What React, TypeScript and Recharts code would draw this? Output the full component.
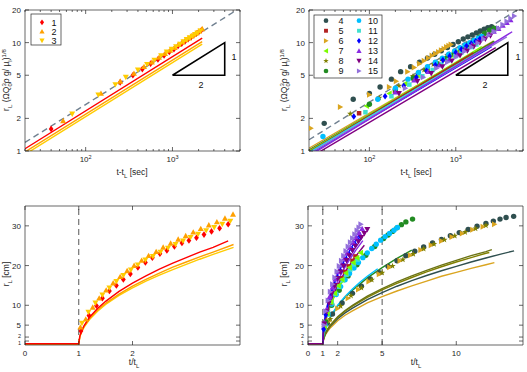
import React from 'react';
import { ComposedChart, Scatter, Line, XAxis, YAxis, ReferenceLine } from 'recharts';

type Pt = [number, number];

const AX = '#262626';
const FONT = 'Liberation Sans, Arial, sans-serif';

// series colours and marker kinds (legend 1..15)
const COLORS: Record<number, string> = {
  1: '#ff0000', 2: '#ffa000', 3: '#ffcc00', 4: '#2f4f4f', 5: '#b22222',
  6: '#daa520', 7: '#7cfc00', 8: '#808000', 9: '#228b22', 10: '#00bfff',
  11: '#40e0d0', 12: '#0000ff', 13: '#8a2be2', 14: '#800080', 15: '#9370db',
};
const KINDS: Record<number, string> = {
  1: 'diamond', 2: 'up', 3: 'down', 4: 'circle', 5: 'square', 6: 'right', 7: 'left',
  8: 'star', 9: 'circle', 10: 'circle', 11: 'square', 12: 'diamond', 13: 'up', 14: 'down', 15: 'right',
};

// ---------- top panels: t - t_L [sec] vs scaled r_L ----------
const logXTicks = [20, 30, 40, 50, 60, 70, 80, 90, 100, 200, 300, 400, 500, 600, 700, 800, 900, 1000, 2000, 3000, 4000, 5000, 6000];
const logYTicks = [1, 2, 5, 10, 20];

const top1: Pt[] = [[40, 1.6], [250, 4.3], [350, 5.0], [450, 5.7], [560, 6.4], [680, 7.0], [800, 7.6], [920, 8.2], [1040, 8.7], [1160, 9.3], [1280, 9.8], [1400, 10.3], [1520, 10.8], [1640, 11.2], [1760, 11.7], [1880, 12.1], [2000, 12.5], [2150, 13.0]];
const top2: Pt[] = [[55, 1.9], [150, 3.4], [250, 4.4], [360, 5.2], [470, 6.0], [580, 6.6], [700, 7.3], [820, 7.9], [940, 8.5], [1060, 9.0], [1180, 9.6], [1300, 10.1], [1420, 10.6], [1540, 11.0], [1660, 11.5], [1780, 11.9], [1900, 12.3], [2020, 12.8], [2200, 13.4]];
const top3: Pt[] = [[70, 2.2], [140, 3.3], [220, 4.1], [290, 4.8], [400, 5.6], [510, 6.3], [620, 6.9], [740, 7.6], [860, 8.2], [980, 8.7], [1100, 9.2], [1220, 9.7], [1340, 10.2], [1460, 10.7], [1580, 11.1], [1700, 11.5], [1820, 11.9], [1940, 12.3], [2100, 12.8]];
const topFit1: Pt[] = [[20, 1.05], [2200, 11.0]];
const topFit2: Pt[] = [[20, 0.98], [2200, 10.2]];
const topFit3: Pt[] = [[20, 0.93], [2200, 9.7]];
const topRefA: Pt[] = [[20, 1.2], [5300, 19.6]];

const top4: Pt[] = [[30, 1.8], [65, 3.0], [100, 3.4], [133, 3.9], [180, 4.6], [230, 5.4], [300, 6.0], [380, 6.6], [470, 7.2], [570, 7.8], [680, 8.4], [800, 9.0], [930, 9.6], [1070, 10.2], [1220, 10.8], [1380, 11.3], [1550, 11.8], [1730, 12.3], [1920, 12.8], [2130, 13.3], [2350, 13.7], [2600, 14.0]];
const top5: Pt[] = [[76, 2.23], [198, 3.55], [330, 4.6], [470, 5.5], [620, 6.3], [780, 7.0], [950, 7.7], [1130, 8.3], [1320, 8.9], [1520, 9.4]];
const top6: Pt[] = [[21, 1.62], [46, 2.55], [100, 3.3], [170, 3.9], [204, 4.4], [277, 5.4], [330, 5.9], [380, 6.4], [430, 6.8], [480, 7.2], [530, 7.6], [580, 7.9], [630, 8.2], [680, 8.5], [730, 8.8], [780, 9.1], [830, 9.35], [880, 9.6]];
const top7: Pt[] = [[93, 2.6], [170, 3.4], [260, 4.2], [360, 5.0], [470, 5.7], [590, 6.4], [720, 7.0], [860, 7.6], [1010, 8.2], [1170, 8.8], [1340, 9.3], [1520, 9.8]];
const top8: Pt[] = [[60, 2.2], [130, 3.1], [220, 4.0], [320, 4.9], [430, 5.6], [550, 6.3], [680, 7.0], [820, 7.6], [970, 8.2], [1130, 8.8], [1300, 9.3], [1480, 9.9], [1670, 10.4], [1870, 10.9], [2080, 11.4]];
const top9: Pt[] = [[100, 2.7], [200, 3.7], [320, 4.7], [460, 5.6], [610, 6.4], [780, 7.2], [960, 8.0], [1160, 8.8], [1380, 9.6], [1620, 10.5], [1880, 11.3], [2160, 12.2], [2460, 13.0], [2780, 13.6]];
const top10: Pt[] = [[29, 1.36], [125, 3.0], [200, 3.8], [280, 4.6], [370, 5.3], [470, 6.0], [580, 6.6], [700, 7.2], [830, 7.8], [970, 8.4], [1120, 9.0], [1280, 9.5], [1450, 10.0], [1630, 10.5], [1820, 11.0], [2000, 11.4]];
const top11: Pt[] = [[90, 2.28], [180, 3.2], [290, 4.1], [410, 4.9], [540, 5.6], [680, 6.3], [830, 6.9], [990, 7.5], [1160, 8.1], [1340, 8.6], [1530, 9.1], [1730, 9.6]];
const top12: Pt[] = [[66, 2.08], [152, 3.2], [250, 4.0], [350, 4.8], [460, 5.5], [580, 6.2], [710, 6.9], [850, 7.5], [1000, 8.1], [1160, 8.7], [1330, 9.3], [1510, 9.8], [1700, 10.3], [1900, 10.8]];
const top13: Pt[] = [[200, 3.5], [330, 4.5], [480, 5.4], [650, 6.2], [840, 7.0], [1050, 7.8], [1280, 8.7], [1530, 9.5], [1800, 10.3], [2100, 11.1], [2420, 11.9], [2760, 12.7], [3120, 13.5], [3500, 14.4], [3900, 15.3], [4300, 16.2]];
const top14: Pt[] = [[220, 3.4], [360, 4.4], [520, 5.2], [700, 6.0], [900, 6.8], [1120, 7.6], [1360, 8.4], [1620, 9.2], [1900, 10.0], [2200, 10.8], [2520, 11.6]];
const top15: Pt[] = [[260, 3.8], [420, 4.8], [600, 5.8], [800, 6.6], [1020, 7.4], [1260, 8.3], [1520, 9.1], [1800, 9.9], [2100, 10.8], [2420, 11.7], [2760, 12.6], [3120, 13.6], [3500, 14.6], [3900, 15.7], [4320, 16.7], [4760, 17.6]];
const topRefB: Pt[] = [[20, 1.27], [5400, 20.5]];
const topFits2: Record<number, Pt[]> = {
  6: [[20, 1.06], [2750, 10.4]],
  4: [[20, 1.02], [2750, 10.2]],
  9: [[20, 1.0], [2800, 10.3]],
  8: [[20, 1.01], [2700, 10.0]],
  7: [[20, 1.0], [2000, 9.2]],
  5: [[20, 0.98], [1600, 8.1]],
  10: [[20, 0.97], [2400, 9.3]],
  11: [[20, 0.96], [2300, 9.1]],
  12: [[20, 0.93], [2600, 9.2]],
  15: [[20, 0.94], [3900, 11.3]],
  13: [[20, 0.9], [4500, 12.6]],
  14: [[20, 0.86], [2900, 9.0]],
};
const slopeTri: Pt[] = [[1000, 5], [4000, 10], [4000, 5], [1000, 5]];

// ---------- bottom panels: t/t_L vs r_L [cm] ----------
const linYTicks = [1, 2, 5, 10, 20, 30];

const bot1: Pt[] = [[1.04, 3.5], [1.19, 7.4], [1.33, 9.9], [1.44, 11.8], [1.57, 13.6], [1.70, 15.0], [1.83, 16.5], [1.96, 17.9], [2.10, 19.5], [2.24, 20.8], [2.37, 22.0], [2.51, 23.0], [2.64, 23.8], [2.78, 24.8], [2.92, 25.7], [3.05, 26.3], [3.19, 27.0], [3.33, 27.8], [3.47, 28.6], [3.62, 29.4], [3.78, 30.4]];
const bot2: Pt[] = [[1.03, 4.5], [1.13, 6.5], [1.26, 9.5], [1.38, 11.8], [1.51, 13.8], [1.64, 15.6], [1.77, 17.2], [1.9, 18.7], [2.03, 20.0], [2.17, 21.3], [2.3, 22.5], [2.44, 23.5], [2.57, 24.6], [2.71, 25.6], [2.85, 26.6], [2.99, 27.5], [3.13, 28.4], [3.27, 29.3], [3.42, 30.2], [3.57, 31.0], [3.72, 31.9], [3.87, 32.9]];
const bot3: Pt[] = [[1.06, 5.5], [1.18, 8.3], [1.31, 10.6], [1.44, 12.6], [1.57, 14.4], [1.7, 16.0], [1.83, 17.5], [1.97, 18.9], [2.1, 20.2], [2.24, 21.4], [2.38, 22.3], [2.52, 23.4], [2.66, 24.4], [2.8, 25.3], [2.94, 26.2], [3.08, 27.1], [3.22, 27.9], [3.37, 28.8], [3.52, 29.6], [3.67, 30.4], [3.82, 31.2]];
const botFit1: Pt[] = [[0, 0.3], [1, 0.3], [1.02, 2.2], [1.05, 3.5], [1.1, 4.9], [1.2, 7.0], [1.35, 9.2], [1.5, 11.0], [1.75, 13.5], [2, 15.6], [2.25, 17.4], [2.5, 19.1], [2.75, 20.6], [3, 22.0], [3.25, 23.4], [3.5, 24.6], [3.78, 26.2]];
const botFit2: Pt[] = [[0, 0.3], [1, 0.3], [1.02, 2.1], [1.05, 3.3], [1.1, 4.7], [1.2, 6.6], [1.35, 8.8], [1.5, 10.5], [1.75, 12.8], [2, 14.8], [2.25, 16.5], [2.5, 18.1], [2.75, 19.6], [3, 20.9], [3.25, 22.2], [3.5, 23.4], [3.88, 25.3]];
const botFit3: Pt[] = [[0, 0.2], [1, 0.2], [1.02, 2.0], [1.05, 3.2], [1.1, 4.5], [1.2, 6.4], [1.35, 8.5], [1.5, 10.2], [1.75, 12.5], [2, 14.4], [2.25, 16.1], [2.5, 17.6], [2.75, 19.0], [3, 20.3], [3.25, 21.6], [3.5, 22.8], [3.88, 24.6]];

const bot4: Pt[] = [[1.3, 5.5], [1.65, 7.8], [2.3, 10.6], [3.0, 13.0], [3.6, 14.8], [4.2, 16.6], [4.8, 18.2], [5.4, 19.8], [6.0, 21.2], [6.6, 22.5], [7.2, 23.6], [7.8, 24.7], [8.4, 25.7], [9.0, 26.6], [9.6, 27.5], [10.2, 28.3], [10.8, 29.1], [11.4, 29.9], [12.0, 30.6], [12.5, 31.2], [12.95, 31.7], [13.36, 32.1], [13.87, 32.4]];
const bot5: Pt[] = [[1.1, 4.7], [1.3, 8.2], [1.5, 10.6], [1.75, 13.0], [2.0, 15.0], [2.25, 16.8], [2.5, 18.4], [2.75, 19.8], [3.0, 21.2], [3.2, 22.3]];
const bot6: Pt[] = [[1.4, 6.0], [2.0, 9.2], [2.7, 11.8], [3.4, 14.0], [4.1, 16.0], [4.8, 17.8], [5.5, 19.6], [6.2, 21.2], [6.9, 22.6], [7.6, 23.9], [8.3, 25.1], [9.0, 26.2], [9.7, 27.2], [10.4, 28.1], [11.1, 29.0], [11.8, 29.8], [12.57, 30.4]];
const bot7: Pt[] = [[1.1, 4.6], [1.3, 7.9], [1.55, 10.8], [1.8, 13.0], [2.05, 14.9], [2.3, 16.5], [2.55, 18.1], [2.8, 19.5], [3.05, 20.8], [3.3, 22.0], [3.55, 23.2]];
const bot8: Pt[] = [[1.5, 6.5], [2.2, 9.8], [2.9, 12.4], [3.6, 14.4], [4.3, 16.4], [5.0, 18.2], [5.7, 19.9], [6.4, 21.5], [7.1, 22.9], [7.8, 24.2], [8.5, 25.4], [9.2, 26.5], [9.9, 27.5], [10.6, 28.4], [11.3, 29.3], [12.0, 30.1]];
const bot9: Pt[] = [[1.2, 5.8], [1.6, 10.0], [2.1, 13.8], [2.7, 17.4], [3.3, 20.2], [3.9, 22.6], [4.5, 24.8], [5.1, 26.8], [5.4, 27.7], [5.7, 28.6], [6.0, 29.5], [6.3, 30.3], [6.6, 31.0], [7.05, 31.7]];
const bot10: Pt[] = [[1.15, 5.0], [1.35, 7.8], [1.6, 10.3], [1.9, 12.7], [2.2, 14.7], [2.5, 16.4], [2.8, 18.0], [3.1, 19.4], [3.4, 20.8], [3.7, 22.0], [4.0, 23.2], [4.3, 24.3], [4.6, 25.4], [4.9, 26.4], [5.2, 27.3], [5.5, 28.1], [5.8, 28.9], [6.03, 29.6]];
const bot11: Pt[] = [[1.12, 4.9], [1.35, 8.3], [1.6, 10.8], [1.85, 12.9], [2.1, 14.7], [2.35, 16.3], [2.6, 17.7], [2.85, 19.0], [3.1, 20.3], [3.35, 21.5]];
const bot12: Pt[] = [[1.05, 4.0], [1.2, 7.6], [1.4, 10.8], [1.6, 13.2], [1.8, 15.2], [2.0, 17.0], [2.2, 18.6], [2.4, 20.1], [2.6, 21.5], [2.8, 22.8], [3.0, 24.0], [3.2, 25.2], [3.4, 26.3], [3.56, 27.2]];
const bot13: Pt[] = [[1.1, 5.7], [1.25, 9.0], [1.45, 12.1], [1.65, 14.5], [1.85, 16.6], [2.05, 18.4], [2.25, 20.1], [2.45, 21.7], [2.65, 23.1], [2.85, 24.5], [3.05, 25.8], [3.25, 27.0], [3.45, 28.2], [3.65, 29.3]];
const bot14: Pt[] = [[1.1, 5.3], [1.25, 8.4], [1.4, 10.6], [1.6, 13.0], [1.8, 15.0], [2.0, 16.8], [2.2, 18.4], [2.4, 19.9], [2.6, 21.3], [2.8, 22.5], [3.0, 23.8], [3.2, 24.9], [3.4, 26.0], [3.6, 27.1], [3.8, 28.1], [4.0, 29.1]];
const bot15: Pt[] = [[1.08, 5.0], [1.2, 8.5], [1.35, 11.2], [1.5, 13.4], [1.65, 15.3], [1.8, 17.0], [1.95, 18.5], [2.1, 19.9], [2.25, 21.2], [2.4, 22.5], [2.55, 23.7], [2.7, 24.8], [2.85, 25.9], [3.0, 26.9], [3.15, 27.9], [3.3, 28.8], [3.43, 29.6], [3.56, 30.4]];

const botFits4: { color: string; pts: Pt[] }[] = [
  { color: COLORS[6], pts: [[0, 0.3], [1, 0.3], [1.05, 1.4], [1.15, 2.4], [1.3, 3.3], [1.5, 4.3], [2, 6.1], [2.5, 7.5], [3, 8.6], [4, 10.6], [5, 12.2], [6, 13.6], [7, 14.9], [8, 16.1], [9, 17.3], [10, 18.3], [11, 19.3], [12, 20.2], [12.57, 20.75]] },
  { color: COLORS[4], pts: [[0, 0.3], [1, 0.3], [1.05, 1.5], [1.15, 2.6], [1.3, 3.6], [1.5, 4.7], [2, 6.6], [2.5, 8.1], [3, 9.3], [4, 11.4], [5, 13.2], [6, 14.8], [7, 16.2], [8, 17.5], [9, 18.7], [10, 19.8], [11, 20.9], [12, 21.9], [13, 22.9], [13.9, 23.7]] },
  { color: COLORS[8], pts: [[0, 0.3], [1, 0.3], [1.05, 1.6], [1.15, 2.7], [1.3, 3.8], [1.5, 4.9], [2, 6.95], [2.5, 8.5], [3, 9.8], [4, 12.0], [5, 13.9], [6, 15.5], [7, 17.0], [8, 18.4], [9, 19.7], [10, 20.9], [11, 22.0], [12, 23.1], [12.23, 23.3]] },
  { color: '#6b7314', pts: [[1, 0.3], [1.05, 1.6], [1.15, 2.8], [1.3, 3.9], [1.5, 5.0], [2, 7.1], [2.5, 8.7], [3, 10.0], [4, 12.3], [5, 14.2], [6, 15.9], [7, 17.4], [8, 18.8], [9, 20.1], [10, 21.3], [11, 22.5], [12, 23.5], [12.4, 24.0]] },
  { color: COLORS[9], pts: [[1, 0.3], [1.05, 2.2], [1.15, 3.8], [1.3, 5.3], [1.5, 6.9], [2, 9.8], [2.5, 12.0], [3, 13.8], [4, 16.9], [5, 19.5], [6, 21.8], [7, 23.9]] },
  { color: COLORS[10], pts: [[1, 0.3], [1.05, 2.2], [1.15, 3.9], [1.3, 5.5], [1.5, 7.1], [2, 10.0], [2.5, 12.2], [3, 14.1], [3.5, 15.8], [4, 17.3], [4.7, 19.2]] },
  { color: COLORS[5], pts: [[1, 0.3], [1.03, 2.4], [1.08, 4.0], [1.15, 5.4], [1.3, 7.7], [1.5, 9.9], [1.75, 12.1], [2, 14.0], [2.25, 15.7], [2.5, 17.1], [2.75, 18.5], [3, 19.8], [3.2, 20.8]] },
  { color: COLORS[11], pts: [[1, 0.3], [1.03, 2.5], [1.08, 4.1], [1.15, 5.6], [1.3, 7.9], [1.5, 10.3], [1.75, 12.6], [2, 14.5], [2.25, 16.2], [2.5, 17.8], [2.75, 19.2], [3, 20.5], [3.4, 22.5]] },
  { color: COLORS[7], pts: [[1, 0.3], [1.03, 2.4], [1.08, 3.9], [1.15, 5.4], [1.3, 7.6], [1.5, 9.8], [1.75, 12.0], [2, 13.9], [2.25, 15.5], [2.5, 17.0], [2.75, 18.4], [3, 19.7], [3.25, 20.9], [3.56, 22.2]] },
  { color: COLORS[13], pts: [[1, 0.3], [1.03, 2.8], [1.08, 4.5], [1.15, 6.2], [1.3, 8.8], [1.5, 11.3], [1.75, 13.9], [2, 16.0], [2.25, 17.9], [2.5, 19.6], [2.75, 21.2], [3, 22.6], [3.25, 24.0], [3.7, 26.3]] },
  { color: COLORS[15], pts: [[1, 0.3], [1.03, 3.2], [1.08, 5.2], [1.15, 7.2], [1.3, 10.1], [1.5, 13.1], [1.75, 16.0], [2, 18.5], [2.25, 20.7], [2.5, 22.7], [2.75, 24.5], [3, 26.2], [3.25, 27.8], [3.45, 29.0]] },
  { color: COLORS[12], pts: [[1, 0.3], [1.03, 3.1], [1.08, 5.0], [1.15, 6.9], [1.3, 9.7], [1.5, 12.5], [1.75, 15.3], [2, 17.7], [2.25, 19.8], [2.5, 21.7], [2.75, 23.4], [3, 25.0], [3.25, 26.6], [3.56, 28.3]] },
  { color: COLORS[14], pts: [[0, 0.3], [1, 0.3], [1.03, 2.6], [1.08, 4.2], [1.15, 5.8], [1.3, 8.2], [1.5, 10.6], [1.75, 13.0], [2, 15.0], [2.25, 16.8], [2.5, 18.4], [2.75, 19.8], [3, 21.2], [3.25, 22.5], [3.56, 24.0], [3.8, 25.1]] },
];

const toXY = (pts: Pt[]) => pts.map(([x, y]) => ({ x, y }));

function Marker({ kind, cx, cy, color, r = 3 }: { kind: string; cx: number; cy: number; color: string; r?: number }) {
  const p = (arr: number[][]) => arr.map(([a, b]) => `${cx + a},${cy + b}`).join(' ');
  switch (kind) {
    case 'circle':
      return <circle cx={cx} cy={cy} r={r * 0.9} fill={color} />;
    case 'square':
      return <rect x={cx - r * 0.75} y={cy - r * 0.75} width={r * 1.5} height={r * 1.5} fill={color} />;
    case 'diamond':
      return <polygon points={p([[0, -r * 1.1], [r * 0.8, 0], [0, r * 1.1], [-r * 0.8, 0]])} fill={color} />;
    case 'up':
      return <polygon points={p([[0, -r], [r, r * 0.8], [-r, r * 0.8]])} fill={color} />;
    case 'down':
      return <polygon points={p([[0, r], [r, -r * 0.8], [-r, -r * 0.8]])} fill={color} />;
    case 'right':
      return <polygon points={p([[r, 0], [-r * 0.8, -r], [-r * 0.8, r]])} fill={color} />;
    case 'left':
      return <polygon points={p([[-r, 0], [r * 0.8, -r], [r * 0.8, r]])} fill={color} />;
    default: {
      const pts: number[][] = [];
      for (let i = 0; i < 10; i++) {
        const a = -Math.PI / 2 + (i * Math.PI) / 5;
        const rr = i % 2 === 0 ? r * 1.1 : r * 0.45;
        pts.push([rr * Math.cos(a), rr * Math.sin(a)]);
      }
      return <polygon points={p(pts)} fill={color} />;
    }
  }
}

const isDecade = (v: number) => Math.abs(Math.log10(v) - Math.round(Math.log10(v))) < 1e-6;

function tickLabel(v: number, log: boolean, x: number, y: number, anchor: string, size = 8) {
  if (log) {
    if (!isDecade(v)) return null;
    return (
      <text x={x} y={y} textAnchor={anchor} fontSize={size} fill={AX} fontFamily={FONT}>
        10<tspan dy={-3.5} fontSize={5.5}>{Math.round(Math.log10(v))}</tspan>
      </text>
    );
  }
  return (
    <text x={x} y={y} textAnchor={anchor} fontSize={size} fill={AX} fontFamily={FONT}>{v}</text>
  );
}

const mkTick = (side: 'b' | 't' | 'l' | 'r', log: boolean) => (props: any) => {
  const { x, y, payload } = props;
  const v = payload.value as number;
  const major = !log || isDecade(v) || side === 'l' || side === 'r';
  const len = major ? 4 : 2;
  let line;
  if (side === 'b') line = <line x1={x} x2={x} y1={y} y2={y - len} stroke={AX} strokeWidth={0.7} />;
  else if (side === 't') line = <line x1={x} x2={x} y1={y} y2={y + len} stroke={AX} strokeWidth={0.7} />;
  else if (side === 'l') line = <line x1={x} x2={x + len} y1={y} y2={y} stroke={AX} strokeWidth={0.7} />;
  else line = <line x1={x} x2={x - len} y1={y} y2={y} stroke={AX} strokeWidth={0.7} />;
  let label = null;
  if (side === 'b') label = tickLabel(v, log, x, y + 11, 'middle');
  if (side === 'l') {
    // the linear r_L axis has 1 and 2 squeezed together near the bottom
    const tight = !log && (v === 1 || v === 2);
    const dy = tight ? (v === 1 ? 4.2 : 1.2) : 3;
    label = tickLabel(v, false, x - 4, y + dy, 'end', tight ? 5.5 : 8);
  }
  return <g>{line}{label}</g>;
};

type DotSeries = { id: number; pts: Pt[] };
type LineSeries = { color: string; pts: Pt[]; w?: number; dash?: string };

function Panel(props: {
  left: number; top: number; width: number; height: number;
  plot: [number, number, number, number];
  log: boolean;
  xDomain: [number, number]; yDomain: [number, number];
  xTicks: number[]; yTicks: number[];
  dots: DotSeries[]; lines: LineSeries[]; overLines?: LineSeries[]; vlines?: number[];
}) {
  const { left, top, width, height, plot, log, xDomain, yDomain, xTicks, yTicks, dots, lines, overLines = [], vlines = [] } = props;
  const [pl, pt, pr, pb] = plot;
  const margin = { left: 0, top: pt - 1, right: width - pr - 1, bottom: 0 };
  const sc = log ? 'log' : 'linear';
  const axisCommon = { type: 'number' as const, allowDataOverflow: true, interval: 0 as const, tickSize: 0, tickMargin: 0, tickLine: false, axisLine: { stroke: AX, strokeWidth: 0.7 } };
  const renderLine = (ln: LineSeries, i: number, key: string) => (
    <Line key={key + i} xAxisId="b" yAxisId="l" data={toXY(ln.pts)} dataKey="y" type="linear" stroke={ln.color}
      strokeWidth={ln.w ?? 1.4} strokeDasharray={ln.dash} dot={false} activeDot={false} isAnimationActive={false} />
  );
  return (
    <div style={{ position: 'absolute', left, top }}>
      <ComposedChart width={width} height={height} margin={margin}>
        <XAxis xAxisId="b" orientation="bottom" dataKey="x" scale={sc} domain={xDomain} ticks={xTicks} height={height - pb} tick={mkTick('b', log)} {...axisCommon} />
        <XAxis xAxisId="t" orientation="top" dataKey="x" scale={sc} domain={xDomain} ticks={xTicks} height={1} tick={mkTick('t', log)} {...axisCommon} />
        <YAxis yAxisId="l" orientation="left" dataKey="y" scale={log ? 'log' : 'linear'} domain={yDomain} ticks={yTicks} width={pl} tick={mkTick('l', log)} {...axisCommon} />
        <YAxis yAxisId="r" orientation="right" dataKey="y" scale={log ? 'log' : 'linear'} domain={yDomain} ticks={yTicks} width={1} tick={mkTick('r', log)} {...axisCommon} />
        {vlines.map((v) => (
          <ReferenceLine key={'v' + v} xAxisId="b" yAxisId="l" x={v} stroke="#444" strokeWidth={0.9} strokeDasharray="6 4" />
        ))}
        {lines.map((ln, i) => renderLine(ln, i, 'ln'))}
        {dots.map((d) => (
          <Scatter key={'s' + d.id} xAxisId="b" yAxisId="l" data={toXY(d.pts)} isAnimationActive={false}
            shape={(p: any) => <Marker kind={KINDS[d.id]} cx={p.cx} cy={p.cy} color={COLORS[d.id]} />} />
        ))}
        {overLines.map((ln, i) => renderLine(ln, i, 'ov'))}
      </ComposedChart>
    </div>
  );
}

function Labels() {
  const t = { fontSize: 8.5, fill: AX, fontFamily: FONT };
  const sub = (s: string) => <tspan dy={2.5} fontSize={6}>{s}</tspan>;
  const yScaled = (x: number, y: number) => (
    <text transform={`translate(${x},${y}) rotate(-90)`} textAnchor="middle" {...t}>
      r{sub('L')}<tspan dy={-2.5}> (ΩQ</tspan><tspan dy={2.5} fontSize={6}>0</tspan><tspan dx={-3.3} dy={-6} fontSize={6}>3</tspan>
      <tspan dy={3.5}>ρ g/ μ</tspan><tspan dy={2.5} fontSize={6}>l</tspan><tspan dy={-2.5}>)</tspan>
      <tspan dy={-3.5} fontSize={6}>1/8</tspan>
    </text>
  );
  const legend1 = [1, 2, 3];
  const legend2 = [4, 5, 6, 7, 8, 9, 10, 11, 12, 13, 14, 15];
  return (
    <svg width={527} height={372} style={{ position: 'absolute', left: 0, top: 0, pointerEvents: 'none' }}>
      {yScaled(9, 80)}
      {yScaled(287, 80)}
      <text x={132} y={175} textAnchor="middle" {...t}>t-t{sub('L')}<tspan dy={-2.5}> [sec]</tspan></text>
      <text x={416} y={175} textAnchor="middle" {...t}>t-t{sub('L')}<tspan dy={-2.5}> [sec]</tspan></text>
      <text transform="translate(9,274) rotate(-90)" textAnchor="middle" {...t}>r{sub('L')}<tspan dy={-2.5}> [cm]</tspan></text>
      <text transform="translate(287,274) rotate(-90)" textAnchor="middle" {...t}>r{sub('L')}<tspan dy={-2.5}> [cm]</tspan></text>
      <text x={134} y={365} textAnchor="middle" {...t}>t/t{sub('L')}</text>
      <text x={416} y={365} textAnchor="middle" {...t}>t/t{sub('L')}</text>

      <text x={234} y={60} textAnchor="middle" fontSize={9} fill="#111" fontFamily={FONT}>1</text>
      <text x={201} y={88} textAnchor="middle" fontSize={9} fill="#111" fontFamily={FONT}>2</text>
      <text x={518} y={60} textAnchor="middle" fontSize={9} fill="#111" fontFamily={FONT}>1</text>
      <text x={485} y={88} textAnchor="middle" fontSize={9} fill="#111" fontFamily={FONT}>2</text>

      <rect x={31} y={14} width={30} height={31} fill="#fff" stroke={AX} strokeWidth={0.7} />
      {legend1.map((id, i) => (
        <g key={id}>
          <Marker kind={KINDS[id]} cx={42} cy={22.3 + i * 9.2} color={COLORS[id]} r={2.6} />
          <text x={54} y={25.5 + i * 9.2} textAnchor="middle" fontSize={9} fill="#111" fontFamily={FONT}>{id}</text>
        </g>
      ))}
      <rect x={314} y={15} width={68} height={63} fill="#fff" stroke={AX} strokeWidth={0.7} />
      {legend2.map((id, i) => {
        const col = Math.floor(i / 6);
        const row = i % 6;
        const mx = col === 0 ? 326 : 359;
        const tx = col === 0 ? 341 : 373;
        const cy = 20.7 + row * 10.06;
        return (
          <g key={id}>
            <Marker kind={KINDS[id]} cx={mx} cy={cy} color={COLORS[id]} r={2.6} />
            <text x={tx} y={cy + 3.2} textAnchor="middle" fontSize={9} fill="#111" fontFamily={FONT}>{id}</text>
          </g>
        );
      })}
    </svg>
  );
}

export default function App() {
  const fitOrder = [6, 4, 9, 8, 7, 5, 10, 11, 12, 15, 13, 14];
  return (
    <div style={{ position: 'absolute', left: 0, top: 0, width: 527, height: 372, background: '#fff', fontFamily: FONT }}>
      <Panel left={0} top={0} width={264} height={186} plot={[25, 10, 240, 151]} log
        xDomain={[20, 6000]} yDomain={[1, 20]} xTicks={logXTicks} yTicks={logYTicks}
        lines={[
          { color: COLORS[3], pts: topFit3 },
          { color: COLORS[2], pts: topFit2 },
          { color: COLORS[1], pts: topFit1 },
          { color: '#000', pts: slopeTri, w: 1.6 },
        ]}
        dots={[{ id: 1, pts: top1 }, { id: 2, pts: top2 }, { id: 3, pts: top3 }]}
        overLines={[{ color: '#708090', pts: topRefA, w: 1.4, dash: '6 4' }]}
      />
      <Panel left={264} top={0} width={263} height={186} plot={[45, 10, 259, 151]} log
        xDomain={[20, 6000]} yDomain={[1, 20]} xTicks={logXTicks} yTicks={logYTicks}
        lines={[
          ...fitOrder.map((id) => ({ color: COLORS[id], pts: topFits2[id] })),
          { color: '#000', pts: slopeTri, w: 1.6 },
        ]}
        dots={[
          { id: 4, pts: top4 }, { id: 5, pts: top5 }, { id: 6, pts: top6 }, { id: 7, pts: top7 },
          { id: 8, pts: top8 }, { id: 9, pts: top9 }, { id: 10, pts: top10 }, { id: 11, pts: top11 },
          { id: 12, pts: top12 }, { id: 13, pts: top13 }, { id: 14, pts: top14 }, { id: 15, pts: top15 },
        ]}
        overLines={[{ color: '#708090', pts: topRefB, w: 1.4, dash: '6 4' }]}
      />
      <Panel left={0} top={186} width={264} height={186} plot={[25, 20, 240, 159]} log={false}
        xDomain={[0, 4]} yDomain={[0, 35]} xTicks={[0, 1, 2]} yTicks={linYTicks} vlines={[1]}
        lines={[
          { color: COLORS[3], pts: botFit3 },
          { color: COLORS[2], pts: botFit2 },
          { color: COLORS[1], pts: botFit1 },
        ]}
        dots={[{ id: 1, pts: bot1 }, { id: 2, pts: bot2 }, { id: 3, pts: bot3 }]}
      />
      <Panel left={264} top={186} width={263} height={186} plot={[44, 20, 259, 159]} log={false}
        xDomain={[0, 14.5]} yDomain={[0, 35]} xTicks={[0, 1, 2, 5, 10]} yTicks={linYTicks} vlines={[1, 5]}
        lines={[]}
        dots={[
          { id: 4, pts: bot4 }, { id: 6, pts: bot6 }, { id: 8, pts: bot8 }, { id: 9, pts: bot9 },
          { id: 10, pts: bot10 }, { id: 5, pts: bot5 }, { id: 11, pts: bot11 }, { id: 7, pts: bot7 },
          { id: 12, pts: bot12 }, { id: 13, pts: bot13 }, { id: 14, pts: bot14 }, { id: 15, pts: bot15 },
        ]}
        overLines={botFits4}
      />
      <Labels />
    </div>
  );
}
